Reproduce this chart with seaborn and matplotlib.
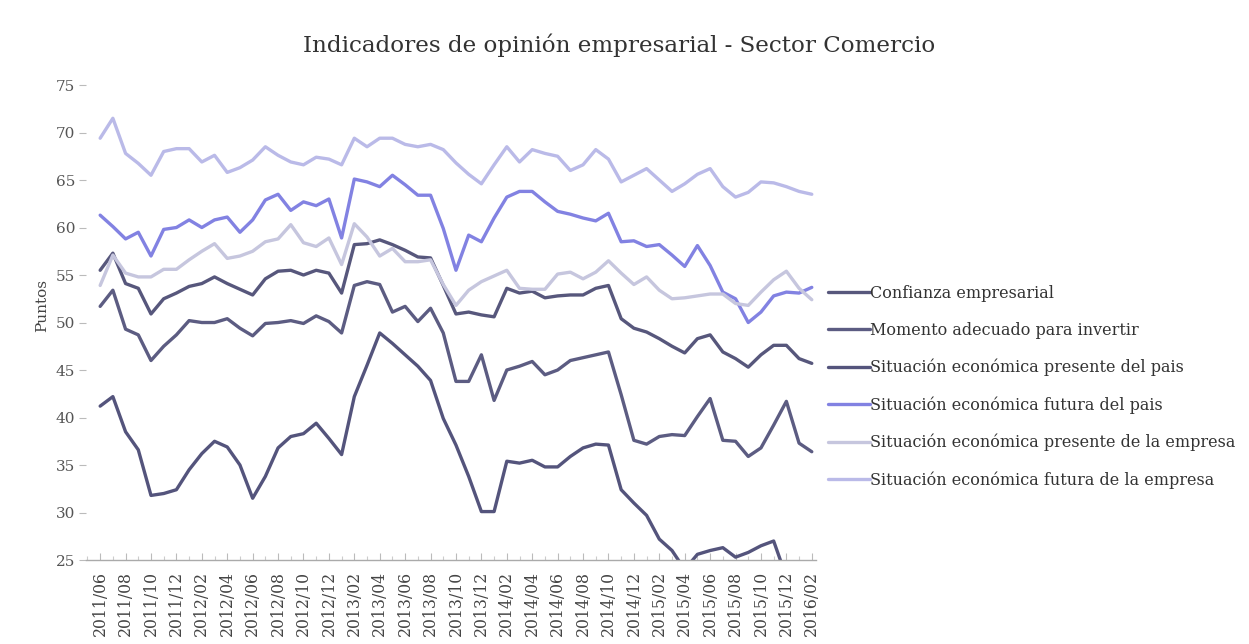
import matplotlib
matplotlib.use("Agg")
import matplotlib.pyplot as plt
from matplotlib.ticker import MultipleLocator
import pandas as pd
import seaborn as sns

# Monthly periods, 2011/06 - 2016/02
meses = [
    "2011/06", "2011/07", "2011/08", "2011/09", "2011/10", "2011/11", "2011/12",
    "2012/01", "2012/02", "2012/03", "2012/04", "2012/05", "2012/06", "2012/07",
    "2012/08", "2012/09", "2012/10", "2012/11", "2012/12",
    "2013/01", "2013/02", "2013/03", "2013/04", "2013/05", "2013/06", "2013/07",
    "2013/08", "2013/09", "2013/10", "2013/11", "2013/12",
    "2014/01", "2014/02", "2014/03", "2014/04", "2014/05", "2014/06", "2014/07",
    "2014/08", "2014/09", "2014/10", "2014/11", "2014/12",
    "2015/01", "2015/02", "2015/03", "2015/04", "2015/05", "2015/06", "2015/07",
    "2015/08", "2015/09", "2015/10", "2015/11", "2015/12",
    "2016/01", "2016/02",
]

confianza = [55.5, 57.3, 54.1, 53.6, 50.9, 52.5, 53.1, 53.8, 54.1, 54.8,
             54.1, 53.5, 52.9, 54.6, 55.4, 55.5, 55.0, 55.5, 55.2, 53.1,
             58.2, 58.3, 58.7, 58.2, 57.6, 56.9, 56.8, 53.9, 50.9, 51.1,
             50.8, 50.6, 53.6, 53.1, 53.3, 52.6, 52.8, 52.9, 52.9, 53.6,
             53.9, 50.4, 49.4, 49.0, 48.3, 47.5, 46.8, 48.3, 48.7, 46.9,
             46.2, 45.3, 46.6, 47.6, 47.6, 46.2, 45.7]

momento = [51.7, 53.4, 49.3, 48.7, 46.0, 47.5, 48.7, 50.2, 50.0, 50.0,
           50.4, 49.4, 48.6, 49.9, 50.0, 50.2, 49.9, 50.7, 50.1, 48.9,
           53.9, 54.3, 54.0, 51.1, 51.7, 50.1, 51.5, 48.9, 43.8, 43.8,
           46.6, 41.8, 45.0, 45.4, 45.9, 44.5, 45.0, 46.0, 46.3, 46.6,
           46.9, 42.4, 37.6, 37.2, 38.0, 38.2, 38.1, 40.1, 42.0, 37.6,
           37.5, 35.9, 36.8, 39.2, 41.7, 37.3, 36.4]

presente_pais = [41.2, 42.2, 38.5, 36.6, 31.8, 32.0, 32.4, 34.5, 36.2, 37.5,
                 36.9, 35.0, 31.5, 33.8, 36.8, 38.0, 38.3, 39.4, 37.8, 36.1,
                 42.2, 45.5, 48.9, 47.8, 46.6, 45.4, 43.9, 39.9, 37.1, 33.8,
                 30.1, 30.1, 35.4, 35.2, 35.5, 34.8, 34.8, 35.9, 36.8, 37.2,
                 37.1, 32.4, 31.0, 29.7, 27.2, 26.0, 24.0, 25.6, 26.0, 26.3,
                 25.3, 25.8, 26.5, 27.0, 23.2, 22.6, 22.4]

futura_pais = [61.3, 60.1, 58.8, 59.5, 57.0, 59.8, 60.0, 60.8, 60.0, 60.8,
               61.1, 59.5, 60.8, 62.9, 63.5, 61.8, 62.7, 62.3, 63.0, 58.9,
               65.1, 64.8, 64.3, 65.5, 64.5, 63.4, 63.4, 59.9, 55.5, 59.2,
               58.5, 61.0, 63.2, 63.8, 63.8, 62.7, 61.7, 61.4, 61.0, 60.7,
               61.5, 58.5, 58.6, 58.0, 58.2, 57.1, 55.9, 58.1, 56.0, 53.2,
               52.5, 50.0, 51.1, 52.8, 53.2, 53.1, 53.7]

presente_empresa = [53.9, 57.1, 55.2, 54.8, 54.8, 55.6, 55.6, 56.6, 57.5, 58.3,
                    56.75, 57.0, 57.5, 58.5, 58.8, 60.3, 58.4, 58.0, 58.9, 56.1,
                    60.4, 59.0, 57.0, 57.8, 56.4, 56.4, 56.6, 54.0, 51.8, 53.4,
                    54.3, 54.9, 55.5, 53.6, 53.5, 53.5, 55.1, 55.3, 54.6, 55.3,
                    56.5, 55.2, 54.0, 54.8, 53.4, 52.5, 52.6, 52.8, 53.0, 53.0,
                    52.0, 51.8, 53.2, 54.5, 55.4, 53.6, 52.4]

futura_empresa = [69.4, 71.5, 67.8, 66.75, 65.5, 68.0, 68.3, 68.3, 66.9, 67.6,
                  65.8, 66.3, 67.1, 68.5, 67.6, 66.9, 66.6, 67.4, 67.2, 66.6,
                  69.4, 68.5, 69.4, 69.4, 68.75, 68.5, 68.75, 68.2, 66.8, 65.6,
                  64.6, 66.6, 68.5, 66.9, 68.2, 67.8, 67.5, 66.0, 66.6, 68.2,
                  67.2, 64.8, 65.5, 66.2, 65.0, 63.8, 64.6, 65.6, 66.2, 64.3,
                  63.2, 63.7, 64.8, 64.7, 64.3, 63.8, 63.5]

series = {
    "Confianza empresarial": confianza,
    "Momento adecuado para invertir": momento,
    "Situación económica presente del pais": presente_pais,
    "Situación económica futura del pais": futura_pais,
    "Situación económica presente de la empresa": presente_empresa,
    "Situación económica futura de la empresa": futura_empresa,
}

colores = {
    "Confianza empresarial": "#57577c",
    "Momento adecuado para invertir": "#5c5c82",
    "Situación económica presente del pais": "#54547c",
    "Situación económica futura del pais": "#8282e2",
    "Situación económica presente de la empresa": "#c6c6de",
    "Situación económica futura de la empresa": "#babae8",
}

df = pd.concat(
    [pd.DataFrame({"mes": range(len(meses)), "valor": v, "serie": k})
     for k, v in series.items()],
    ignore_index=True,
)

sns.set_theme(style="white")
plt.rcParams["font.family"] = ["DejaVu Serif"]

fig = plt.figure(figsize=(12.49, 6.44), dpi=100)
ax = fig.add_axes([0.069, 0.1304, 0.584, 0.7376])

sns.lineplot(data=df, x="mes", y="valor", hue="serie", hue_order=list(series),
             palette=colores, estimator=None, sort=False, linewidth=2.4, ax=ax)

ax.set_xlim(-1.1, 56.3)
ax.set_ylim(25, 75)
ax.set_yticks(range(25, 80, 5))
ax.set_xticks(range(0, len(meses), 2))
ax.set_xticklabels(meses[::2], rotation=90)
ax.xaxis.set_minor_locator(MultipleLocator(1))
ax.set_xlabel("")
ax.set_ylabel("")

for lado in ("top", "right", "left"):
    ax.spines[lado].set_visible(False)
ax.spines["bottom"].set_color("#aaaaaa")
ax.spines["bottom"].set_linewidth(1.0)

ax.tick_params(axis="y", left=True, length=5, width=0.8, color="#bbbbbb",
               labelcolor="#555555", labelsize=11, pad=3)
ax.tick_params(axis="x", which="major", bottom=True, direction="in", length=5,
               width=0.8, color="#bbbbbb", labelcolor="#444444", labelsize=11.3, pad=8)
ax.tick_params(axis="x", which="minor", bottom=True, direction="in", length=3,
               width=0.8, color="#cccccc")

fig.text(0.496, 0.93, "Indicadores de opinión empresarial - Sector Comercio",
         ha="center", va="center", fontsize=16.6, color="#333333")
fig.text(0.034, 0.526, "Puntos", rotation=90, ha="center", va="center",
         fontsize=11, color="#444444")

handles, labels = ax.get_legend_handles_labels()
leg = ax.legend(handles, labels, loc="upper left",
                bbox_to_anchor=(0.663, 1 - 285 / 644),
                bbox_transform=fig.transFigure, frameon=False,
                handlelength=2.6, handletextpad=0.0, labelspacing=1.25,
                fontsize=11.5, borderpad=0, borderaxespad=0)
for t in leg.get_texts():
    t.set_color("#333333")

fig.savefig("out.png", dpi=100, facecolor="white")
